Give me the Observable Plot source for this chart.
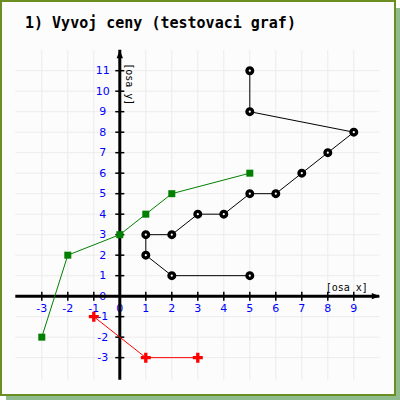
<!DOCTYPE html>
<html><head><meta charset="utf-8">
<script src="https://cdn.jsdelivr.net/npm/d3@7"></script>
<script src="https://cdn.jsdelivr.net/npm/@observablehq/plot@0.6"></script>
<style>
html,body{margin:0;padding:0;background:#fff;}
#shadow{position:absolute;left:6px;top:8px;width:394px;height:392px;background:#8fbc8f;}
#frame{position:absolute;left:0;top:0;width:396px;height:396px;box-sizing:border-box;border:2px solid #6b8e23;background:#fcfcfc;}
#title{position:absolute;left:25px;top:16px;font:bold 15px/15px "DejaVu Sans Mono",monospace;color:#000;white-space:pre;}
#chart{position:absolute;left:0;top:40px;}
</style></head><body>
<div id="shadow"></div><div id="frame"></div>
<div id="title"></div>
<div id="chart"></div>
<script>
// ---- data ----
const title = "1) Vyvoj ceny (testovaci graf)";
const xAxisTitle = "[osa x]";
const yAxisTitle = "[osa y]";
const xTicks = [-3, -2, -1, 0, 1, 2, 3, 4, 5, 6, 7, 8, 9];
const yTicks = [-3, -2, -1, 0, 1, 2, 3, 4, 5, 6, 7, 8, 9, 10, 11];
const blackX = [5, 5, 9, 8, 7, 6, 5, 4, 3, 2, 1, 1, 2, 5];
const blackY = [11, 9, 8, 7, 6, 5, 5, 4, 4, 3, 3, 2, 1, 1];
const greenX = [-3, -2, 0, 1, 2, 5];
const greenY = [-2, 2, 3, 4, 5, 6];
const redX = [-1, 1, 3];
const redY = [-1, -3, -3];

// ---- config ----
const X_DOMAIN = [-4, 10];
const Y_DOMAIN = [-4.1, 12];

document.getElementById("title").textContent = title;

const black = blackX.map((x, i) => ({x, y: blackY[i]}));
const green = greenX.map((x, i) => ({x, y: greenY[i]}));
const red = redX.map((x, i) => ({x, y: redY[i]}));

const rOf = size => Math.sqrt(size / Math.PI);
const tickV = {draw(ctx, size) { const r = rOf(size); ctx.moveTo(0, -r); ctx.lineTo(0, r); }};
const tickH = {draw(ctx, size) { const r = rOf(size); ctx.moveTo(-r, 0); ctx.lineTo(r, 0); }};
const arrowHead = {draw(ctx, size) { const r = rOf(size); ctx.moveTo(r, 0); ctx.lineTo(-r, -r * 0.8); ctx.lineTo(-r, r * 0.8); ctx.closePath(); }};

const lbl = {fill: "#0000ff", fontSize: 11, fontFamily: "DejaVu Sans", textAnchor: "middle", lineAnchor: "middle"};

const plot = Plot.plot({
  width: 396, height: 350, margin: 0,
  x: {domain: X_DOMAIN, range: [15.3, 379.3], axis: null},
  y: {domain: Y_DOMAIN, range: [339.7, 9.7], axis: null},
  style: {background: "transparent", overflow: "visible"},
  marks: [
    Plot.ruleX(xTicks, {y1: Y_DOMAIN[0], y2: Y_DOMAIN[1], stroke: "#ececec"}),
    Plot.ruleY(yTicks, {x1: X_DOMAIN[0], x2: X_DOMAIN[1], stroke: "#ececec"}),
    Plot.text(xTicks, {x: d => d, y: 0, text: d => String(d), dy: 12, ...lbl}),
    Plot.text(yTicks, {x: 0, y: d => d, text: d => String(d), dx: -17, ...lbl}),
    Plot.ruleY([0], {x1: X_DOMAIN[0], x2: X_DOMAIN[1], stroke: "black", strokeWidth: 3}),
    Plot.ruleX([0], {y1: Y_DOMAIN[0], y2: Y_DOMAIN[1], stroke: "black", strokeWidth: 3}),
    Plot.dot(xTicks.filter(d => d !== 0), {x: d => d, y: 0, symbol: tickV, r: 4.5, fill: "none", stroke: "black", strokeWidth: 1.5}),
    Plot.dot(yTicks.filter(d => d !== 0), {x: 0, y: d => d, symbol: tickH, r: 4.5, fill: "none", stroke: "black", strokeWidth: 1.5}),
    Plot.dot([{x: X_DOMAIN[1], y: 0}], {x: "x", y: "y", symbol: arrowHead, r: 4, dx: -4, fill: "black", stroke: "none"}),
    Plot.dot([{x: 0, y: Y_DOMAIN[1]}], {x: "x", y: "y", symbol: arrowHead, r: 4, rotate: -90, dy: 4, fill: "black", stroke: "none"}),
    Plot.text([xAxisTitle], {x: X_DOMAIN[1], y: 0, text: d => d, dx: -12, dy: -8, textAnchor: "end", lineAnchor: "middle", fontSize: 10, fontFamily: "DejaVu Sans Mono", fill: "black"}),
    Plot.text([yAxisTitle], {x: 0, y: Y_DOMAIN[1], text: d => d, dx: 9, dy: 13, rotate: 90, textAnchor: "start", lineAnchor: "middle", fontSize: 10, fontFamily: "DejaVu Sans Mono", fill: "black"}),
    Plot.line(black, {x: "x", y: "y", stroke: "black", strokeWidth: 1}),
    Plot.line(green, {x: "x", y: "y", stroke: "#008000", strokeWidth: 1}),
    Plot.line(red, {x: "x", y: "y", stroke: "#ff0000", strokeWidth: 1}),
    Plot.dot(black, {x: "x", y: "y", r: 2.8, fill: "white", stroke: "black", strokeWidth: 3.4}),
    Plot.dot(green, {x: "x", y: "y", symbol: "square", r: 3.95, fill: "#008000", stroke: "none"}),
    Plot.dot(red, {x: "x", y: "y", symbol: "cross", r: 4.2, fill: "#ff0000", stroke: "none"})
  ]
});
document.getElementById("chart").appendChild(plot);
</script>
</body></html>
